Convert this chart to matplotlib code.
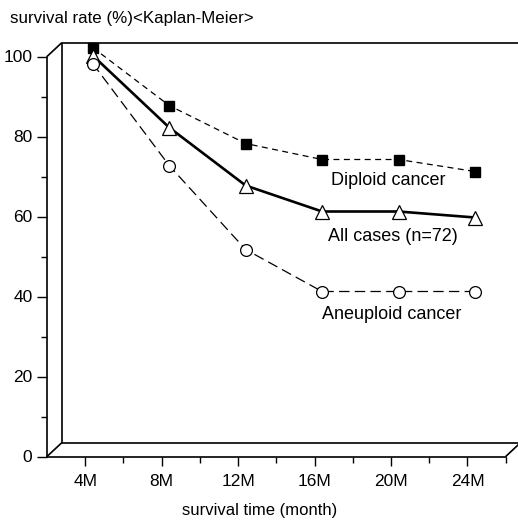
import matplotlib
matplotlib.use("Agg")
import matplotlib.pyplot as plt
import matplotlib.transforms as mtransforms

plt.rcParams["font.family"] = ["Liberation Sans", "DejaVu Sans"]
plt.rcParams["lines.scale_dashes"] = False

# survival time (months) and Kaplan-Meier survival rate (%)
months = [4, 8, 12, 16, 20, 24]
tick_labels = ["4M", "8M", "12M", "16M", "20M", "24M"]
diploid = [100.5, 86, 76.5, 72.5, 72.5, 69.5]
all_cases = [98.5, 80.5, 66, 59.5, 59.5, 58]
aneuploid = [96.5, 71, 50, 39.5, 39.5, 39.5]

W, H = 518, 523
fig = plt.figure(figsize=(W / 100, H / 100), dpi=100)
# front plane of the pseudo-3D box (pixels)
left, right, bottom, top = 47, 505.7, 456.5, 56.5
ax = fig.add_axes([left / W, 1 - bottom / H, (right - left) / W, (bottom - top) / H])
ax.set_xlim(2, 26)
ax.set_ylim(0, 100)
ax.patch.set_visible(False)

for s in ["top", "right"]:
    ax.spines[s].set_visible(False)
for s in ["left", "bottom"]:
    ax.spines[s].set_linewidth(1.2)

# depth offset of the back wall (in data units)
dx = 15 / ((right - left) / 24)
dy = 14 / 4.0
box = dict(color="black", lw=1.2, clip_on=False, solid_capstyle="butt")
ax.plot([2, 2 + dx], [0, dy], **box)
ax.plot([2, 2 + dx], [100, 100 + dy], **box)
ax.plot([26, 26 + dx], [0, dy], **box)
ax.plot([2 + dx, 2 + dx], [dy, 100 + dy], **box)
ax.plot([2 + dx, 26 + dx], [100 + dy, 100 + dy], **box)
ax.plot([2 + dx, 26 + dx], [dy, dy], **box)

# ticks
ax.set_yticks([0, 20, 40, 60, 80, 100])
ax.set_yticks([10, 30, 50, 70, 90], minor=True)
ax.set_xticks(months)
ax.set_xticklabels(tick_labels)
ax.set_xticks([6, 10, 14, 18, 22, 26], minor=True)
ax.tick_params(axis="y", which="major", length=7.5, width=1.0, pad=3, labelsize=12.5)
ax.tick_params(axis="y", which="minor", length=4.5, width=1.0)
ax.tick_params(axis="x", which="major", length=6.5, width=1.0, pad=6, labelsize=12.5)
ax.tick_params(axis="x", which="minor", length=4, width=1.0)

# data lines drawn at mid depth of the box
mid = mtransforms.offset_copy(ax.transData, fig=fig, x=7.5, y=7, units="dots")
ax.plot(months, diploid, transform=mid, color="black", lw=0.9, dashes=(4.3, 3.2),
        marker="s", ms=6.5, mfc="black", mec="black", clip_on=False)
ax.plot(months, all_cases, transform=mid, color="black", lw=1.9,
        marker="^", ms=9.5, mfc="white", mec="black", mew=0.9, clip_on=False)
ax.plot(months, aneuploid, transform=mid, color="black", lw=0.9, dashes=(7.5, 3.8),
        marker="o", ms=8.5, mfc="white", mec="black", mew=0.9, clip_on=False)

ax.text(19.85, 69.1, "Diploid cancer", ha="center", va="center", fontsize=13)
ax.text(20.1, 54.9, "All cases (n=72)", ha="center", va="center", fontsize=13)
ax.text(20.05, 35.6, "Aneuploid cancer", ha="center", va="center", fontsize=13)

fig.text(10 / W, 1 - 18 / H, "survival rate (%)<Kaplan-Meier>", ha="left", va="center", fontsize=12.2)
fig.text(260 / W, 1 - 510 / H, "survival time (month)", ha="center", va="center", fontsize=12)

fig.savefig("out.png", dpi=100, facecolor="white")
